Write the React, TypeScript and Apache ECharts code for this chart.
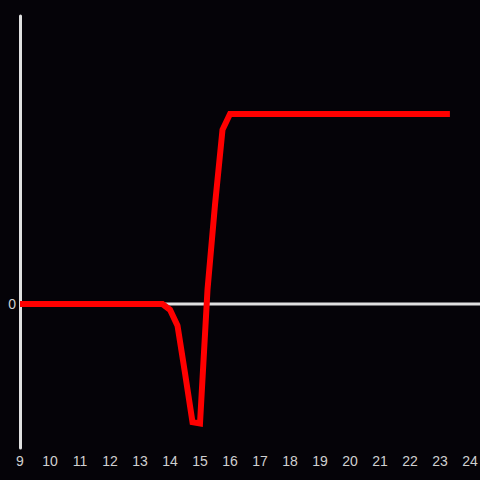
import React, { useEffect, useRef } from "react";
import * as echarts from "echarts";

const hours = [9, 13.75, 14.0, 14.25, 14.5, 14.75, 15.0, 15.25, 15.5, 15.75, 16.0, 23.33];
const values = [0, 0, -0.04, -0.15, -0.48, -0.82, -0.83, 0.1, 0.69, 1.21, 1.32, 1.32];
const zeroLineX = [9, 24.333];
const zeroLineY = [0, 0];

export default function App() {
  const ref = useRef<HTMLDivElement>(null);
  useEffect(() => {
    if (!ref.current) return;
    const chart = echarts.init(ref.current, undefined, { renderer: "svg" });
    const font = "Liberation Sans";
    chart.setOption({
      animation: false,
      backgroundColor: "#050308",
      grid: { left: 20, right: 0, top: 16, bottom: 32, outerBoundsMode: "none", containLabel: false },
      xAxis: {
        type: "value",
        min: 9,
        max: 24.333,
        interval: 1,
        axisLine: { show: false },
        axisTick: { show: false },
        splitLine: { show: false },
        axisLabel: {
          color: "#d0d0d0",
          fontSize: 14,
          fontFamily: font,
          margin: 6,
          formatter: (v: number) => (Math.abs(v - Math.round(v)) < 1e-6 ? String(Math.round(v)) : ""),
        },
      },
      yAxis: {
        type: "value",
        min: -1,
        max: 2,
        interval: 1,
        axisLine: { show: true, onZero: false, lineStyle: { color: "#e0e0e0", width: 3 } },
        axisTick: { show: false },
        splitLine: { show: false },
        axisLabel: {
          color: "#d0d0d0",
          fontSize: 14,
          fontFamily: font,
          margin: 4,
          formatter: (v: number) => (v === 0 ? "0" : ""),
        },
      },
      series: [
        {
          type: "line",
          data: zeroLineX.map((x, i) => [x, zeroLineY[i]]),
          symbol: "none",
          lineStyle: { color: "#e0e0e0", width: 3 },
          z: 1,
          silent: true,
        },
        {
          type: "line",
          data: hours.map((h, i) => [h, values[i]]),
          symbol: "none",
          lineStyle: { color: "#ff0000", width: 6, join: "miter" },
          z: 2,
        },
      ],
    });
    return () => chart.dispose();
  }, []);
  return <div ref={ref} style={{ width: 480, height: 480, position: "fixed", left: 0, top: 0 }} />;
}
